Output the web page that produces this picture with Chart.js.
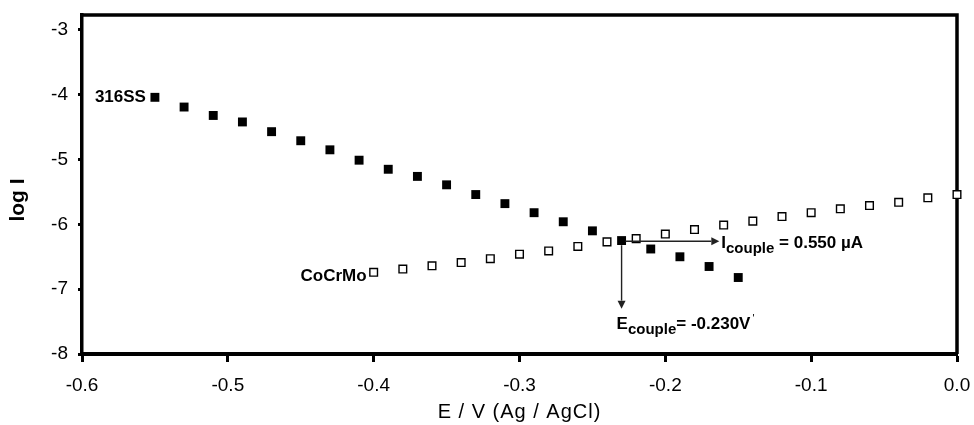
<!DOCTYPE html>
<html>
<head>
<meta charset="utf-8">
<script src="https://cdn.jsdelivr.net/npm/chart.js@4.4.0/dist/chart.umd.min.js"></script>
<style>
  html, body { margin: 0; padding: 0; background: #fff; }
  #wrap { width: 974px; height: 425px; position: relative; }
</style>
</head>
<body>
<div id="wrap"><canvas id="polChart"></canvas></div>
<script>
    const FONT = '"Liberation Sans", Arial, Helvetica, sans-serif';

    // 316SS : potential (V vs Ag/AgCl) and log I
    const eSS   = [-0.55, -0.53, -0.51, -0.49, -0.47, -0.45, -0.43, -0.41, -0.39, -0.37, -0.35,
                   -0.33, -0.31, -0.29, -0.27, -0.25, -0.23, -0.21, -0.19, -0.17, -0.15];
    const logSS = [-4.04, -4.19, -4.32, -4.42, -4.57, -4.71, -4.85, -5.01, -5.15, -5.26, -5.39,
                   -5.54, -5.68, -5.82, -5.96, -6.10, -6.25, -6.38, -6.50, -6.65, -6.82];

    // CoCrMo
    const eCo   = [-0.40, -0.38, -0.36, -0.34, -0.32, -0.30, -0.28, -0.26, -0.24, -0.22, -0.20,
                   -0.18, -0.16, -0.14, -0.12, -0.10, -0.08, -0.06, -0.04, -0.02, 0.00];
    const logCo = [-6.74, -6.69, -6.64, -6.59, -6.53, -6.46, -6.41, -6.34, -6.27, -6.22, -6.15,
                   -6.08, -6.01, -5.95, -5.88, -5.82, -5.76, -5.71, -5.66, -5.59, -5.54];

    // axes
    const xRange = [-0.6, 0.0];
    const yRange = [-8, -2.77];
    const xTitle = 'E / V (Ag / AgCl)';
    const yTitle = 'log I';

    // couple point and the two arrows (data units)
    const couple    = { x: -0.23, y: -6.26 };
    const arrowEndX = -0.163;
    const arrowEndY = -7.30;
    const iCouple = ['I', 'couple', ' = 0.550 \u00b5A'];
    const eCouple = ['E', 'couple', '= -0.230V'];

    function toPoints(xs, ys) {
        return xs.map((x, i) => ({ x: x, y: ys[i] }));
    }

    // top and right edges of the box
    const framePlugin = {
        id: 'frame',
        beforeDatasetsDraw(chart) {
            const a = chart.chartArea, ctx = chart.ctx;
            ctx.save();
            ctx.strokeStyle = '#000';
            ctx.lineWidth = 3.5;
            ctx.beginPath();
            ctx.moveTo(a.left - 1.7, a.top);
            ctx.lineTo(a.right, a.top);
            ctx.lineTo(a.right, a.bottom);
            ctx.stroke();
            ctx.restore();
        }
    };

    function arrow(ctx, x1, y1, x2, y2) {
        const ang = Math.atan2(y2 - y1, x2 - x1), L = 8, W = 4;
        ctx.beginPath();
        ctx.moveTo(x1, y1);
        ctx.lineTo(x2 - L * Math.cos(ang), y2 - L * Math.sin(ang));
        ctx.stroke();
        ctx.beginPath();
        ctx.moveTo(x2, y2);
        ctx.lineTo(x2 - L * Math.cos(ang) - W * Math.sin(ang), y2 - L * Math.sin(ang) + W * Math.cos(ang));
        ctx.lineTo(x2 - L * Math.cos(ang) + W * Math.sin(ang), y2 - L * Math.sin(ang) - W * Math.cos(ang));
        ctx.closePath();
        ctx.fill();
    }

    function subText(ctx, x, y, parts) {
        ctx.textAlign = 'left';
        ctx.textBaseline = 'alphabetic';
        ctx.font = 'bold 17px ' + FONT;
        ctx.fillText(parts[0], x, y);
        x += ctx.measureText(parts[0]).width;
        ctx.font = 'bold 15px ' + FONT;
        ctx.fillText(parts[1], x, y + 5);
        x += ctx.measureText(parts[1]).width;
        ctx.font = 'bold 17px ' + FONT;
        ctx.fillText(parts[2], x, y);
        return x + ctx.measureText(parts[2]).width;
    }

    // labels, arrows and axis titles
    const notesPlugin = {
        id: 'notes',
        afterDatasetsDraw(chart) {
            const ctx = chart.ctx, xs = chart.scales.x, ys = chart.scales.y, a = chart.chartArea;
            ctx.save();
            ctx.fillStyle = '#000';

            ctx.font = 'bold 17px ' + FONT;
            ctx.textAlign = 'right';
            ctx.textBaseline = 'middle';
            ctx.fillText('316SS', xs.getPixelForValue(eSS[0]) - 9, ys.getPixelForValue(logSS[0]));
            ctx.fillText('CoCrMo', xs.getPixelForValue(eCo[0]) - 7, ys.getPixelForValue(logCo[0]) + 4);

            const cx = xs.getPixelForValue(couple.x), cy = ys.getPixelForValue(couple.y);
            const hx = xs.getPixelForValue(arrowEndX), vy = ys.getPixelForValue(arrowEndY);
            ctx.strokeStyle = '#222';
            ctx.fillStyle = '#222';
            ctx.lineWidth = 1.4;
            arrow(ctx, cx + 4, cy, hx, cy);
            arrow(ctx, cx, cy + 4, cx, vy);

            ctx.fillStyle = '#000';
            subText(ctx, hx + 2, cy + 7, iCouple);
            const end = subText(ctx, cx - 5, vy + 20, eCouple);
            ctx.font = '11px ' + FONT;
            ctx.fillText("'", end + 2, vy + 13);

            // axis titles
            ctx.textAlign = 'center';
            ctx.textBaseline = 'middle';
            ctx.font = '20px ' + FONT;
            ctx.letterSpacing = '1px';
            ctx.fillText(xTitle, (a.left + a.right) / 2, 412);
            ctx.letterSpacing = '0px';
            ctx.translate(18, 200);
            ctx.rotate(-Math.PI / 2);
            ctx.font = 'bold 21px ' + FONT;
            ctx.fillText(yTitle, 0, 0);
            ctx.restore();
        }
    };

    Chart.defaults.font.family = FONT;
    Chart.defaults.color = '#000';

    const ctx = document.getElementById('polChart').getContext('2d');
    const polChart = new Chart(ctx, {
        type: 'scatter',
        data: {
            datasets: [{
                label: '316SS',
                data: toPoints(eSS, logSS),
                pointStyle: 'rect',
                pointRadius: 6.3,
                backgroundColor: '#000',
                borderColor: '#000',
                borderWidth: 0,
                clip: false
            }, {
                label: 'CoCrMo',
                data: toPoints(eCo, logCo),
                pointStyle: 'rect',
                pointRadius: 5.4,
                backgroundColor: '#fff',
                borderColor: '#000',
                borderWidth: 1.4,
                clip: false
            }]
        },
        options: {
            responsive: true,
            maintainAspectRatio: false,
            animation: false,
            layout: { padding: { top: 15, right: 17, left: 0, bottom: 0 } },
            plugins: {
                legend: { display: false },
                tooltip: { enabled: false }
            },
            scales: {
                x: {
                    type: 'linear',
                    min: xRange[0],
                    max: xRange[1],
                    afterFit: s => { s.height = 71; s.paddingLeft = 0; s.paddingRight = 0; },
                    ticks: {
                        stepSize: 0.1,
                        padding: 12,
                        font: { size: 19 },
                        callback: v => v.toFixed(1)
                    },
                    grid: { drawOnChartArea: false, tickLength: 8, tickWidth: 3, tickColor: '#000' },
                    border: { display: true, color: '#000', width: 4 }
                },
                y: {
                    min: yRange[0],
                    max: yRange[1],
                    afterFit: s => { s.width = 82; s.paddingTop = 0; s.paddingBottom = 0; },
                    ticks: {
                        stepSize: 1,
                        includeBounds: false,
                        padding: 10,
                        font: { size: 19 }
                    },
                    grid: { drawOnChartArea: false, tickLength: 4, tickWidth: 3, tickColor: '#000' },
                    border: { display: true, color: '#000', width: 3.5 }
                }
            }
        },
        plugins: [framePlugin, notesPlugin]
    });
</script>
</body>
</html>
